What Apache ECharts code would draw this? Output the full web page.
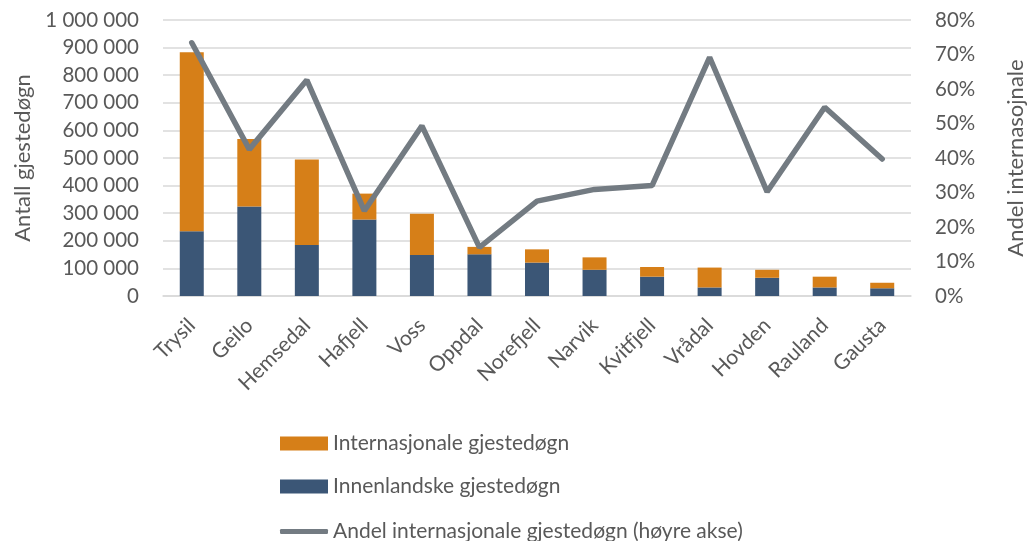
<!DOCTYPE html>
<html>
<head>
<meta charset="utf-8">
<script src="https://cdn.jsdelivr.net/npm/echarts@6/dist/echarts.min.js"></script>
<style>
  html, body { margin: 0; padding: 0; background: #fff; }
  #chart { width: 1035px; height: 541px; }
</style>
</head>
<body>
<div id="chart"></div>
<script>
const categories = ['Trysil', 'Geilo', 'Hemsedal', 'Hafjell', 'Voss', 'Oppdal', 'Norefjell', 'Narvik', 'Kvitfjell', 'Vrådal', 'Hovden', 'Rauland', 'Gausta']
const domestic = [235000, 324000, 185000, 277000, 149000, 151000, 121000, 95000, 70000, 31000, 66000, 31000, 28000]
const international = [648000, 245000, 310000, 94000, 149000, 27000, 48000, 45000, 35000, 72000, 29000, 39000, 20000]
const sharePct = [73.4, 42.5, 62.6, 24.7, 49.3, 14.1, 27.5, 30.9, 32.0, 69.2, 30.2, 54.7, 39.7]

const textColor = '#595959'
const font = 'Lato'
const lineColor = '#737b82'

var chart = echarts.init(document.getElementById('chart'))

// one legend per item so each row can sit where the reference has it
var legendBase = {
  orient: 'vertical',
  left: 275,
  itemWidth: 48,
  itemHeight: 14,
  itemGap: 6,
  textStyle: { fontSize: 21, color: textColor, fontFamily: font },
}

var option = {
  backgroundColor: '#fff',
  textStyle: { fontFamily: font, color: textColor },
  grid: { left: 163, right: 102, top: 20, bottom: 245 },
  legend: [
    Object.assign({}, legendBase, {
      top: 428,
      data: [{ name: 'Internasjonale gjestedøgn', icon: 'rect' }],
    }),
    Object.assign({}, legendBase, {
      top: 471,
      data: [{ name: 'Innenlandske gjestedøgn', icon: 'rect' }],
    }),
    Object.assign({}, legendBase, {
      top: 516,
      itemHeight: 5,
      data: [{ name: 'Andel internasjonale gjestedøgn (høyre akse)', icon: 'roundRect' }],
    }),
  ],
  xAxis: {
    type: 'category',
    data: categories,
    axisTick: { show: false },
    axisLine: { lineStyle: { color: '#d9d9d9', width: 1.5 } },
    axisLabel: {
      rotate: 45,
      margin: 26,
      fontSize: 21,
      color: textColor,
      fontFamily: font,
    },
  },
  yAxis: [
    {
      type: 'value',
      min: 0,
      max: 1000000,
      interval: 100000,
      name: 'Antall gjestedøgn',
      nameLocation: 'middle',
      nameGap: 128,
      nameTextStyle: { fontSize: 22, color: textColor, fontFamily: font },
      axisLabel: {
        margin: 24,
        fontSize: 20.5,
        color: textColor,
        fontFamily: font,
        formatter: function (v) {
          return String(v).replace(/\B(?=(\d{3})+(?!\d))/g, ' ')
        },
      },
      splitLine: { lineStyle: { color: '#d9d9d9', width: 1.5 } },
    },
    {
      type: 'value',
      min: 0,
      max: 80,
      interval: 10,
      name: 'Andel internasojnale',
      nameLocation: 'middle',
      nameGap: 94,
      nameTextStyle: { fontSize: 22, color: textColor, fontFamily: font },
      axisLabel: {
        margin: 24,
        fontSize: 20.5,
        color: textColor,
        fontFamily: font,
        formatter: '{value}%',
      },
      splitLine: { show: false },
    },
  ],
  series: [
    {
      name: 'Innenlandske gjestedøgn',
      type: 'bar',
      stack: 'total',
      barWidth: 24,
      itemStyle: { color: '#3b5676' },
      data: domestic,
    },
    {
      name: 'Internasjonale gjestedøgn',
      type: 'bar',
      stack: 'total',
      barWidth: 24,
      itemStyle: { color: '#d67f18' },
      data: international,
    },
    {
      name: 'Andel internasjonale gjestedøgn (høyre akse)',
      type: 'line',
      yAxisIndex: 1,
      symbol: 'none',
      lineStyle: { color: lineColor, width: 5.5, cap: 'round' },
      itemStyle: { color: lineColor },
      data: sharePct,
    },
  ],
}

option && chart.setOption(option)
</script>
</body>
</html>
